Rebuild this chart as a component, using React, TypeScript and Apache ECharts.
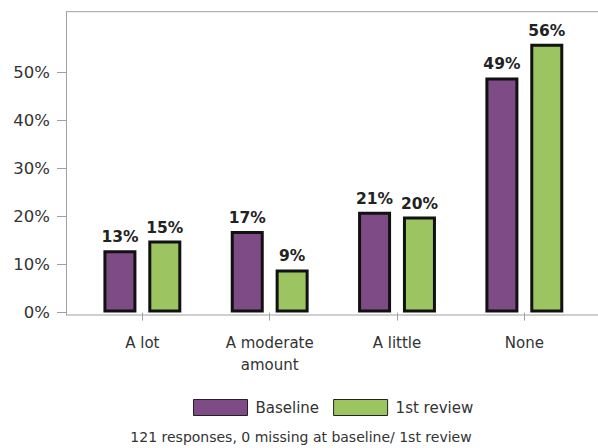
import React, { useEffect, useRef } from "react";
import * as echarts from "echarts";

const categories = ["A lot", "A moderate\namount", "A little", "None"];
const baseline = [13, 17, 21, 49];
const firstReview = [15, 9, 20, 56];
const yTicks = [0, 10, 20, 30, 40, 50];
const seriesNames = ["Baseline", "1st review"];
const caption = "121 responses, 0 missing at baseline/ 1st review";

const FONT = "DejaVu Sans";

export default function App() {
  const ref = useRef<HTMLDivElement>(null);
  useEffect(() => {
    const chart = echarts.init(ref.current!, null, { renderer: "svg" });
    const axisGray = "#a0a0a0";
    const barLabel = {
      show: true,
      position: "top",
      distance: 5,
      formatter: "{c}%",
      fontFamily: FONT,
      fontWeight: "bold",
      fontSize: 15.5,
      color: "#222",
    };
    chart.setOption({
      animation: false,
      textStyle: { fontFamily: FONT },
      grid: { left: 78.7, right: 10, top: 11.7, bottom: 133, containLabel: false },
      xAxis: {
        type: "category",
        data: categories,
        boundaryGap: true,
        axisLine: { show: false },
        axisTick: { show: true, alignWithLabel: true, length: 8, lineStyle: { color: axisGray } },
        axisLabel: { color: "#333", fontSize: 15, fontFamily: FONT, margin: 17, lineHeight: 22, interval: 0 },
      },
      yAxis: {
        type: "value",
        min: -0.5,
        max: 62.7,
        offset: 12.7,
        splitLine: { show: false },
        axisLine: { show: true, lineStyle: { color: axisGray } },
        axisTick: { show: true, length: 9, customValues: yTicks, lineStyle: { color: axisGray } },
        axisLabel: {
          customValues: yTicks,
          color: "#333",
          fontSize: 16.5,
          fontFamily: FONT,
          margin: 16,
          formatter: "{value}%",
        },
      },
      legend: {
        data: seriesNames,
        left: 188,
        top: 394,
        itemWidth: 54,
        itemHeight: 16,
        itemGap: 14,
        icon: "rect",
        itemStyle: { borderWidth: 1, borderColor: "#222" },
        textStyle: { fontFamily: FONT, fontSize: 15, color: "#333", padding: [0, 0, 0, 3] },
      },
      graphic: [
        { type: "line", shape: { x1: 66, y1: 11.7, x2: 598, y2: 11.7 }, style: { stroke: axisGray, lineWidth: 1 } },
        { type: "line", shape: { x1: 66, y1: 315, x2: 598, y2: 315 }, style: { stroke: axisGray, lineWidth: 1 } },
        {
          type: "text",
          x: 301,
          y: 437,
          style: { text: caption, fontFamily: FONT, fontSize: 14, fill: "#333", align: "center", verticalAlign: "middle" },
        },
      ],
      series: [
        {
          name: seriesNames[0],
          type: "bar",
          data: baseline,
          barWidth: 33,
          barGap: "36%",
          itemStyle: { color: "#7e4b86", borderColor: "#111", borderWidth: 3 },
          label: barLabel,
        },
        {
          name: seriesNames[1],
          type: "bar",
          data: firstReview,
          barWidth: 33,
          itemStyle: { color: "#9cc561", borderColor: "#111", borderWidth: 3 },
          label: barLabel,
        },
      ],
    });
    return () => chart.dispose();
  }, []);
  return <div ref={ref} style={{ width: 598, height: 448, position: "absolute", left: 0, top: 0 }} />;
}
